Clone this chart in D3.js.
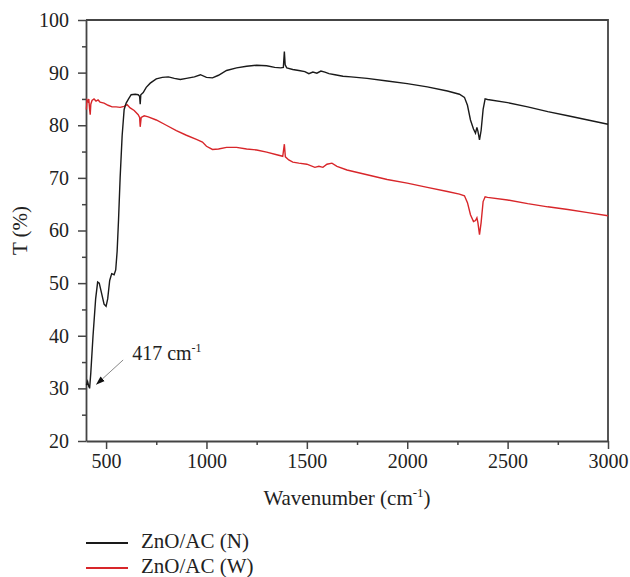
<!DOCTYPE html>
<html>
<head>
<meta charset="utf-8">
<script src="https://cdn.jsdelivr.net/npm/d3@7"></script>
<style>
  body { margin: 0; background: #fff; }
  svg text { font-family: "Liberation Serif", "DejaVu Serif", serif; fill: #222; }
</style>
</head>
<body>
<div id="chart"></div>
<script>
// ZnO/AC (N) - wavenumber, transmittance
const waveN = [402, 408, 413, 418, 424, 435, 448, 458, 466, 478, 490, 500, 508, 518, 528, 540, 548, 555, 562, 570, 580, 590, 600, 612, 625, 645, 660, 667, 670, 673, 685, 700, 720, 750, 780, 810, 840, 870, 900, 940, 970, 1000, 1030, 1060, 1100, 1150, 1200, 1250, 1300, 1340, 1370, 1383, 1388, 1392, 1400, 1430, 1460, 1490, 1510, 1530, 1550, 1570, 1590, 1610, 1640, 1680, 1720, 1800, 1900, 2000, 2100, 2200, 2260, 2285, 2300, 2315, 2330, 2340, 2347, 2352, 2360, 2368, 2378, 2388, 2400, 2500, 2600, 2700, 2800, 2900, 3000];
const transN = [30.6, 31.3, 30.5, 30.0, 33, 40, 47, 50.2, 50, 48, 46, 45.6, 47, 50.5, 51.8, 51.6, 52.5, 56, 62, 70, 78, 83, 84.2, 85, 85.8, 85.9, 85.8, 85.5, 84, 85.8, 86.2, 87.2, 88, 88.8, 89.1, 89.2, 88.9, 88.7, 88.9, 89.2, 89.6, 89.1, 89, 89.5, 90.4, 90.9, 91.2, 91.4, 91.3, 91, 90.9, 91, 94, 91.5, 90.9, 90.6, 90.4, 90.2, 89.8, 90.1, 89.9, 90.3, 90.1, 89.8, 89.6, 89.3, 89.2, 88.9, 88.4, 87.9, 87.3, 86.5, 85.9, 85.3, 83.8, 81, 79.3, 78.5, 79.6, 78.9, 77.2, 79, 83, 85, 84.9, 84.3, 83.5, 82.6, 81.8, 81, 80.2];

// ZnO/AC (W)
const waveW = [402, 405, 410, 414, 418, 421, 424, 430, 440, 450, 460, 470, 490, 510, 530, 550, 570, 590, 605, 620, 640, 660, 667, 670, 675, 690, 710, 750, 800, 850, 900, 950, 980, 1000, 1030, 1060, 1100, 1150, 1200, 1250, 1300, 1350, 1380, 1388, 1393, 1410, 1430, 1460, 1500, 1540, 1560, 1580, 1600, 1625, 1650, 1700, 1800, 1900, 2000, 2100, 2200, 2260, 2285, 2300, 2315, 2330, 2340, 2347, 2352, 2360, 2368, 2378, 2388, 2400, 2500, 2600, 2700, 2800, 2900, 3000];
const transW = [83, 84.8, 84.5, 85, 83, 82, 84, 84.7, 85, 84.6, 84.8, 84.4, 84.2, 83.8, 83.5, 83.5, 83.4, 83.6, 83.9, 83.3, 82.8, 82, 81.5, 79.7, 81.5, 81.8, 81.6, 81, 80, 79, 78.1, 77.3, 76.8, 76, 75.4, 75.5, 75.8, 75.8, 75.5, 75.3, 74.9, 74.4, 74.1, 76.4, 74, 73.4, 73, 72.8, 72.6, 72.0, 72.2, 72.0, 72.6, 72.8, 72.2, 71.5, 70.6, 69.7, 69, 68.2, 67.4, 66.9, 66.6, 65.3, 63, 61.7, 61.9, 62.4, 61.5, 59.2, 61.5, 65.5, 66.4, 66.3, 65.8, 65.1, 64.5, 64, 63.4, 62.8];

const seriesNames = ["ZnO/AC (N)", "ZnO/AC (W)"];
const seriesColors = ["#1a1a1a", "#d8262a"];
const xTicks = [500, 1000, 1500, 2000, 2500, 3000];
const yTicks = [20, 30, 40, 50, 60, 70, 80, 90, 100];

const width = 630, height = 577;
const margin = { top: 20, right: 22, bottom: 136, left: 86 };
const fontFamily = '"Liberation Serif", "DejaVu Serif", serif';

const svg = d3.select("#chart").append("svg")
    .attr("width", width)
    .attr("height", height);

const x = d3.scaleLinear()
    .domain([400, 3000])
    .range([margin.left, width - margin.right]);

const y = d3.scaleLinear()
    .domain([20, 100])
    .range([height - margin.bottom, margin.top]);

const axisColor = "#444";

// minor ticks
svg.append("g")
    .attr("transform", `translate(0,${y(20)})`)
    .call(d3.axisBottom(x).tickValues(d3.range(750, 3000, 500)).tickSize(4).tickFormat(""))
    .call(g => g.select(".domain").remove())
    .call(g => g.selectAll("line").attr("stroke", axisColor).attr("stroke-width", 1.5));

svg.append("g")
    .attr("transform", `translate(${x(400)},0)`)
    .call(d3.axisLeft(y).tickValues(d3.range(25, 100, 10)).tickSize(4).tickFormat(""))
    .call(g => g.select(".domain").remove())
    .call(g => g.selectAll("line").attr("stroke", axisColor).attr("stroke-width", 1.5));

// major axes
svg.append("g")
    .attr("transform", `translate(0,${y(20)})`)
    .call(d3.axisBottom(x).tickValues(xTicks).tickFormat(d3.format("d")).tickSize(8).tickSizeOuter(0).tickPadding(5))
    .call(g => g.attr("font-family", fontFamily))
    .call(g => g.select(".domain").attr("stroke", axisColor).attr("stroke-width", 1.8))
    .call(g => g.selectAll("line").attr("stroke", axisColor).attr("stroke-width", 1.5))
    .call(g => g.selectAll("text").style("font-size", "20px").style("font-family", fontFamily).attr("fill", "#222"));

svg.append("g")
    .attr("transform", `translate(${x(400)},0)`)
    .call(d3.axisLeft(y).tickValues(yTicks).tickFormat(d3.format("d")).tickSize(8).tickSizeOuter(0).tickPadding(9))
    .call(g => g.attr("font-family", fontFamily))
    .call(g => g.select(".domain").attr("stroke", axisColor).attr("stroke-width", 1.8))
    .call(g => g.selectAll("line").attr("stroke", axisColor).attr("stroke-width", 1.5))
    .call(g => g.selectAll("text").style("font-size", "20px").style("font-family", fontFamily).attr("fill", "#222"));

// frame top and right
svg.append("path")
    .attr("d", `M${x(400)},${y(100)}H${x(3000)}V${y(20)}`)
    .attr("fill", "none")
    .attr("stroke", axisColor)
    .attr("stroke-width", 1.8);

// lines
const line = d3.line()
    .x(d => x(d[0]))
    .y(d => y(d[1]));

const dataN = waveN.map((w, i) => [w, transN[i]]);
const dataW = waveW.map((w, i) => [w, transW[i]]);

svg.append("path")
    .datum(dataW)
    .attr("d", line)
    .attr("fill", "none")
    .attr("stroke", seriesColors[1])
    .attr("stroke-width", 1.4);

svg.append("path")
    .datum(dataN)
    .attr("d", line)
    .attr("fill", "none")
    .attr("stroke", seriesColors[0])
    .attr("stroke-width", 1.4);

// axis titles
const xt = svg.append("text")
    .attr("x", 347)
    .attr("y", 505)
    .attr("text-anchor", "middle")
    .style("font-size", "21px");
xt.append("tspan").text("Wavenumber (cm");
xt.append("tspan").attr("dy", -8).style("font-size", "13px").text("-1");
xt.append("tspan").attr("dy", 8).text(")");

svg.append("text")
    .attr("transform", `translate(27,${(y(20) + y(100)) / 2}) rotate(-90)`)
    .attr("text-anchor", "middle")
    .style("font-size", "21px")
    .text("T (%)");

// annotation
svg.append("defs").append("marker")
    .attr("id", "arrow")
    .attr("viewBox", "0 0 10 10")
    .attr("refX", 9).attr("refY", 5)
    .attr("markerWidth", 9).attr("markerHeight", 9)
    .attr("orient", "auto")
    .append("path")
    .attr("d", "M0,1.5L10,5L0,8.5Z")
    .attr("fill", "#111");

svg.append("line")
    .attr("x1", x(585)).attr("y1", y(35.4))
    .attr("x2", x(453)).attr("y2", y(30.8))
    .attr("stroke", "#888")
    .attr("stroke-width", 1)
    .attr("marker-end", "url(#arrow)");

const ann = svg.append("text")
    .attr("x", x(630))
    .attr("y", y(35.4))
    .style("font-size", "20px");
ann.append("tspan").text("417 cm");
ann.append("tspan").attr("dy", -8).style("font-size", "12px").text("-1");

// legend
const legend = svg.append("g");
seriesNames.forEach((name, i) => {
    const ly = 543 + i * 25;
    legend.append("line")
        .attr("x1", 86).attr("x2", 128)
        .attr("y1", ly).attr("y2", ly)
        .attr("stroke", seriesColors[i])
        .attr("stroke-width", 2);
    legend.append("text")
        .attr("x", 141)
        .attr("y", ly + 5)
        .style("font-size", "21px")
        .text(name);
});
</script>
</body>
</html>
